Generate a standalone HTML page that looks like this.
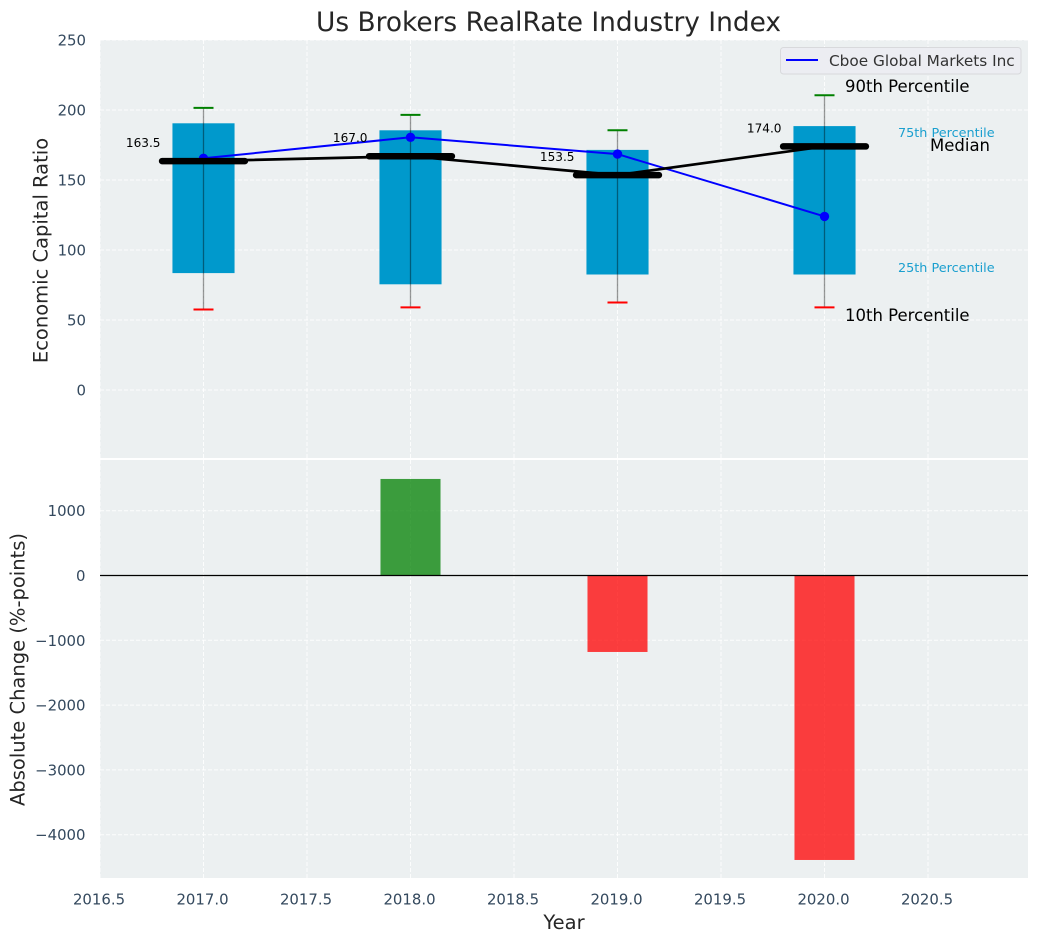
<!DOCTYPE html>
<html>
<head>
<meta charset="utf-8">
<title>Us Brokers RealRate Industry Index</title>
<style>
html,body{margin:0;padding:0;background:#fff;}
svg{display:block;font-family:"DejaVu Sans","Liberation Sans",sans-serif;}
</style>
</head>
<body>
<svg id="chart" xmlns="http://www.w3.org/2000/svg" width="1039" height="942" viewBox="0 0 1039 942">
  <rect x="0" y="0" width="1039" height="942" fill="#ffffff"/>
  <rect x="100" y="40" width="928" height="418" fill="#ecf0f1"/>
  <rect x="100" y="460" width="928" height="418" fill="#ecf0f1"/>
  <g id="grid"></g>
  <g id="bars"></g>
  <g id="boxes"></g>
  <g id="series"></g>
  <g id="ticks"></g>
  <text x="548.5" y="31" text-anchor="middle" font-size="26.4" fill="#262626">Us Brokers RealRate Industry Index</text>
  <text transform="translate(47.5,250.5) rotate(-90)" text-anchor="middle" font-size="19.5" fill="#262626">Economic Capital Ratio</text>
  <text transform="translate(24.5,669.5) rotate(-90)" text-anchor="middle" font-size="19.5" fill="#262626">Absolute Change (%-points)</text>
  <text x="564" y="929" text-anchor="middle" font-size="19.5" fill="#262626">Year</text>
  <text x="845" y="92" font-size="16.5" fill="#000000">90th Percentile</text>
  <text x="845" y="321" font-size="16.5" fill="#000000">10th Percentile</text>
  <text x="930" y="151" font-size="16.5" fill="#000000">Median</text>
  <text x="898" y="137" font-size="12.8" fill="#1a9fcf">75th Percentile</text>
  <text x="898" y="272" font-size="12.8" fill="#1a9fcf">25th Percentile</text>
  <g>
    <rect x="780.5" y="47.5" width="240.5" height="26.5" rx="3" fill="#ecedf2" stroke="#d8d9dc" stroke-width="1"/>
    <line x1="786" y1="60" x2="818" y2="60" stroke="#0000ff" stroke-width="2"/>
    <text x="829" y="66" font-size="15.3" fill="#333333">Cboe Global Markets Inc</text>
  </g>
</svg>
<script>
// ---- chart data ----
const years = [2017, 2018, 2019, 2020];
const p90 = [201.5, 196.5, 185.5, 210.5];
const p75 = [190.5, 185.5, 171.5, 188.5];
const medians = [163.5, 167.0, 153.5, 174.0];
const p25 = [83.5, 75.5, 82.5, 82.5];
const p10 = [57.5, 59.0, 62.5, 59.0];
const companySeries = [165.5, 180.5, 168.5, 124.0];
const changeYears = [2018, 2019, 2020];
const changeValues = [1490, -1180, -4390];
const xTicks = [2016.5, 2017.0, 2017.5, 2018.0, 2018.5, 2019.0, 2019.5, 2020.0, 2020.5];
const topYTicks = [0, 50, 100, 150, 200, 250];
const bottomYTicks = [-4000, -3000, -2000, -1000, 0, 1000];

// ---- axis functions ----
const SVGNS = 'http://www.w3.org/2000/svg';
function xScale(v) { return 100 + (v - 2016.5) * 207; }
function yTop(v) { return 390 - v * 1.4; }
function yBottom(v) { return 575.5 - v * 0.0648; }

function make(parent, tag, attrs, text) {
  const el = document.createElementNS(SVGNS, tag);
  for (const k in attrs) el.setAttribute(k, attrs[k]);
  if (text !== undefined) el.textContent = text;
  parent.appendChild(el);
  return el;
}
const gridG = document.getElementById('grid');
const barsG = document.getElementById('bars');
const boxesG = document.getElementById('boxes');
const seriesG = document.getElementById('series');
const ticksG = document.getElementById('ticks');
const gridStyle = { stroke: '#ffffff', 'stroke-width': 1, 'stroke-dasharray': '4 2', 'stroke-opacity': 0.85 };

// grid and tick labels
xTicks.forEach(function (t) {
  const x = xScale(t);
  const g1 = make(gridG, 'line', Object.assign({ x1: x, x2: x, y1: 40, y2: 458 }, gridStyle));
  
  
  const g2 = make(gridG, 'line', Object.assign({ x1: x, x2: x, y1: 460, y2: 878 }, gridStyle));
  
  
  const lab = make(ticksG, 'text', { x: x - 1, y: 904.5, 'text-anchor': 'middle', 'font-size': 14.9, fill: '#34495e' }, t.toFixed(1));
  
  
});
topYTicks.forEach(function (t) {
  const y = yTop(t);
  const g = make(gridG, 'line', Object.assign({ x1: 100, x2: 1028, y1: y, y2: y }, gridStyle));
  
  
  const lab = make(ticksG, 'text', { x: 86, y: y + 5.5, 'text-anchor': 'end', 'font-size': 14.9, fill: '#34495e' }, String(t));
  
  
});
bottomYTicks.forEach(function (t) {
  const y = yBottom(t);
  const g = make(gridG, 'line', Object.assign({ x1: 100, x2: 1028, y1: y, y2: y }, gridStyle));
  
  
  const lab = make(ticksG, 'text', { x: 85.5, y: y + 5.5, 'text-anchor': 'end', 'font-size': 14.9, fill: '#34495e' }, String(t).replace('-', '\u2212'));
  
  
});

// change bars
changeYears.forEach(function (yr, i) {
  const v = changeValues[i];
  const y0 = yBottom(0), y1 = yBottom(v);
  const bar = make(barsG, 'rect', {
    x: xScale(yr - 0.145), width: xScale(yr + 0.145) - xScale(yr - 0.145),
    y: Math.min(y0, y1), height: Math.abs(y1 - y0),
    fill: v >= 0 ? '#008000' : '#ff0000', 'fill-opacity': 0.75
  });
  
  
});
const zero = make(barsG, 'line', { x1: 100, x2: 1028, y1: yBottom(0), y2: yBottom(0), stroke: '#000000', 'stroke-width': 1.3 });



// boxes, whiskers, caps
years.forEach(function (yr, i) {
  const cx = xScale(yr);
  const box = make(boxesG, 'rect', {
    x: xScale(yr - 0.15), width: xScale(yr + 0.15) - xScale(yr - 0.15),
    y: yTop(p75[i]), height: yTop(p25[i]) - yTop(p75[i]), fill: '#0099cc'
  });
  
  
  const whisker = make(boxesG, 'line', { x1: cx, x2: cx, y1: yTop(p90[i]), y2: yTop(p10[i]), stroke: '#000000', 'stroke-opacity': 0.4, 'stroke-width': 1.3 });
  
  
  const capTop = make(boxesG, 'line', { x1: cx - 10, x2: cx + 10, y1: yTop(p90[i]), y2: yTop(p90[i]), stroke: '#008000', 'stroke-width': 2 });
  
  
  const capBot = make(boxesG, 'line', { x1: cx - 10, x2: cx + 10, y1: yTop(p10[i]), y2: yTop(p10[i]), stroke: '#ff0000', 'stroke-width': 2 });
  
  
});

// company line
const companyLine = make(seriesG, 'polyline', {
  points: years.map(function (yr, i) { return xScale(yr) + ',' + yTop(companySeries[i]); }).join(' '),
  fill: 'none', stroke: '#0000ff', 'stroke-width': 2
});


years.forEach(function (yr, i) {
  const dot = make(seriesG, 'circle', { cx: xScale(yr), cy: yTop(companySeries[i]), r: 4.7, fill: '#0000ff' });
  
  
});

// median line and bars
const medianLine = make(seriesG, 'polyline', {
  points: years.map(function (yr, i) { return xScale(yr) + ',' + yTop(medians[i]); }).join(' '),
  fill: 'none', stroke: '#000000', 'stroke-width': 2.7
});


years.forEach(function (yr, i) {
  const my = yTop(medians[i]);
  const seg = make(seriesG, 'line', { x1: xScale(yr - 0.2), x2: xScale(yr + 0.2), y1: my, y2: my, stroke: '#000000', 'stroke-width': 6.5, 'stroke-linecap': 'round' });
  
  
  const lab = make(seriesG, 'text', { x: xScale(yr) - 43, y: my - 14, 'text-anchor': 'end', 'font-size': 12.1, fill: '#000000' }, medians[i].toFixed(1));
  
  
});
</script>
</body>
</html>
